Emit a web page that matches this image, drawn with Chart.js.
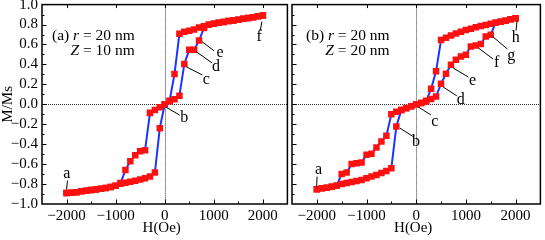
<!DOCTYPE html>
<html>
<head>
<meta charset="utf-8">
<script src="https://cdn.jsdelivr.net/npm/chart.js@4.4.0/dist/chart.umd.min.js"></script>
<style>
  html, body { margin: 0; padding: 0; background: #fff; }
  #wrap { position: relative; width: 545px; height: 240px; overflow: hidden; }
  canvas { position: absolute; top: 0; }
  #chartA { left: 0; }
  #chartB { left: 280px; }
</style>
</head>
<body>
<div id="wrap">
  <canvas id="chartA" width="292" height="240"></canvas>
  <canvas id="chartB" width="265" height="240"></canvas>
</div>
<script>
// field sweep points (Oe), shared by both panels
const fieldOe = [-2000, -1900, -1800, -1700, -1600, -1500, -1400, -1300, -1200, -1100, -1000,
                 -900, -800, -700, -600, -500, -400, -300, -200, -100, 0,
                 100, 200, 300, 400, 500, 600, 700, 800, 900, 1000,
                 1100, 1200, 1300, 1400, 1500, 1600, 1700, 1800, 1900, 2000];

// (a) r = 20 nm, Z = 10 nm : increasing and decreasing field branches
const panelA_up = [-0.890, -0.886, -0.882, -0.873, -0.866, -0.859, -0.854, -0.848, -0.839, -0.829, -0.818,
                   -0.798, -0.788, -0.778, -0.766, -0.755, -0.741, -0.724, -0.685, -0.240, 0.000,
                   0.030, 0.050, 0.086, 0.405, 0.546, 0.546, 0.640, 0.765, 0.798, 0.808,
                   0.818, 0.826, 0.835, 0.841, 0.849, 0.857, 0.865, 0.874, 0.882, 0.890];
const panelA_down = [-0.890, -0.886, -0.882, -0.873, -0.866, -0.859, -0.854, -0.848, -0.839, -0.829, -0.818,
                     -0.790, -0.660, -0.570, -0.510, -0.470, -0.460, -0.086, -0.058, -0.030, 0.000,
                     0.035, 0.305, 0.707, 0.727, 0.737, 0.751, 0.770, 0.784, 0.798, 0.808,
                     0.818, 0.826, 0.835, 0.841, 0.849, 0.857, 0.865, 0.874, 0.882, 0.890];

// (b) r = 20 nm, Z = 20 nm
const panelB_up = [-0.852, -0.842, -0.836, -0.826, -0.816, -0.800, -0.790, -0.780, -0.769, -0.759, -0.742,
                   -0.725, -0.708, -0.690, -0.668, -0.641, -0.223, -0.060, -0.040, -0.020, 0.000,
                   0.012, 0.028, 0.052, 0.078, 0.206, 0.307, 0.397, 0.447, 0.480, 0.497,
                   0.580, 0.590, 0.605, 0.680, 0.698, 0.819, 0.829, 0.839, 0.852, 0.862];
const panelB_down = [-0.852, -0.842, -0.836, -0.826, -0.816, -0.698, -0.685, -0.600, -0.592, -0.584, -0.507,
                     -0.497, -0.433, -0.372, -0.315, -0.100, -0.075, -0.054, -0.037, -0.020, 0.000,
                     0.012, 0.035, 0.155, 0.332, 0.644, 0.668, 0.691, 0.711, 0.728, 0.745,
                     0.758, 0.772, 0.785, 0.795, 0.809, 0.819, 0.829, 0.839, 0.852, 0.862];

const xTickLabels = [-2000, -1000, 0, 1000, 2000];
const yTickLabels = [-1.0, -0.8, -0.6, -0.4, -0.2, 0.0, 0.2, 0.4, 0.6, 0.8, 1.0];

// letter labels: [text, x, y, leader x1, y1, x2, y2] in data units
const notesA = [
  ['a', -1994, -0.694, -1980, -0.765, -2000, -0.855],
  ['b', 400, -0.139, 26, -0.028, 306, -0.109],
  ['c', 846, 0.244, 446, 0.375, 766, 0.294],
  ['d', 1046, 0.375, 646, 0.526, 966, 0.415],
  ['e', 1126, 0.516, 766, 0.627, 1006, 0.536],
  ['f', 1926, 0.677, 1980, 0.829, 1946, 0.738]
];
const notesB = [
  ['a', -1964, -0.658, -1996, -0.726, -2004, -0.832],
  ['b', -6, -0.374, -328, -0.239, -60, -0.324],
  ['c', 376, -0.173, 46, -0.028, 295, -0.106],
  ['d', 898, 0.045, 543, 0.173, 818, 0.085],
  ['e', 1132, 0.236, 744, 0.364, 1051, 0.273],
  ['f', 1622, 0.414, 1252, 0.565, 1548, 0.454],
  ['g', 1915, 0.487, 1534, 0.681, 1835, 0.555],
  ['h', 2004, 0.665, 2030, 0.839, 2010, 0.739]
];

const FONT = "'Liberation Serif', 'Times New Roman', serif";
const RED = '#ff1010';
const BLUE = '#1f35ff';

function minus(s) { return s.replace('-', '\u2212'); }

function pts(vals) {
  return fieldOe.map((h, i) => ({ x: h, y: vals[i] }));
}

const decor = {
  id: 'decor',
  beforeDatasetsDraw(chart, args, o) {
    const { ctx, chartArea: a, scales: { x, y } } = chart;
    ctx.save();
    ctx.strokeStyle = '#333';
    ctx.lineWidth = 1;
    ctx.setLineDash([1, 1]);
    const x0 = Math.round(x.getPixelForValue(0)) + 0.5;
    const y0 = Math.round(y.getPixelForValue(0)) + 0.5;
    ctx.beginPath();
    ctx.moveTo(x0, a.top); ctx.lineTo(x0, a.bottom);
    ctx.moveTo(a.left, y0); ctx.lineTo(a.right, y0);
    ctx.stroke();
    ctx.restore();
  },
  afterDatasetsDraw(chart, args, o) {
    const { ctx, chartArea: a, scales: { x, y } } = chart;
    ctx.save();

    // leader lines + letters
    ctx.strokeStyle = '#000';
    ctx.lineWidth = 1;
    ctx.fillStyle = '#000';
    ctx.font = '16px ' + FONT;
    ctx.textAlign = 'center';
    ctx.textBaseline = 'middle';
    o.notes.forEach(n => {
      ctx.beginPath();
      ctx.moveTo(x.getPixelForValue(n[3]), y.getPixelForValue(n[4]));
      ctx.lineTo(x.getPixelForValue(n[5]), y.getPixelForValue(n[6]));
      ctx.stroke();
      ctx.fillText(n[0], x.getPixelForValue(n[1]), y.getPixelForValue(n[2]));
    });

    // sample description
    ctx.textAlign = 'left';
    ctx.textBaseline = 'alphabetic';
    const up = '15.5px ' + FONT, it = 'italic 15.5px ' + FONT;
    let cx = a.left + o.infoLeft;
    const b1 = a.top + 35, b2 = a.top + 50;
    const parts = [[o.tag + ' ', up], ['r', it], [' = 20 nm', up]];
    parts.forEach(p => { ctx.font = p[1]; ctx.fillText(p[0], cx, b1); cx += ctx.measureText(p[0]).width; });
    const right = cx;
    ctx.font = up;
    const rest = ' = ' + o.z + ' nm';
    const wRest = ctx.measureText(rest).width;
    ctx.font = it;
    const wZ = ctx.measureText('Z').width;
    ctx.fillText('Z', right - wRest - wZ, b2);
    ctx.font = up;
    ctx.fillText(rest, right - wRest, b2);

    // frame
    ctx.lineWidth = 1.5;
    ctx.strokeRect(a.left, a.top, a.right - a.left, a.bottom - a.top);

    // inward ticks
    ctx.lineWidth = 1;
    ctx.beginPath();
    y.ticks.forEach(t => {
      if (t.value <= -1 || t.value >= 1) return;
      const py = Math.round(y.getPixelForValue(t.value)) + 0.5;
      const major = Math.abs(Math.round(t.value * 10)) % 2 === 0;
      ctx.moveTo(a.left, py); ctx.lineTo(a.left + (major ? 4.5 : 2.5), py);
    });
    x.ticks.forEach(t => {
      if (t.value <= -2500 || t.value >= 2500) return;
      const px = Math.round(x.getPixelForValue(t.value)) + 0.5;
      const major = t.value % 1000 === 0;
      ctx.moveTo(px, a.bottom); ctx.lineTo(px, a.bottom - (major ? 4.5 : 2.5));
      if (major) { ctx.moveTo(px, a.top); ctx.lineTo(px, a.top + 3.5); }
    });
    ctx.stroke();

    // axis titles
    ctx.font = '15px ' + FONT;
    ctx.textAlign = 'center';
    ctx.textBaseline = 'middle';
    ctx.fillText('H(Oe)', (a.left + a.right) / 2 - 3, 228);
    if (o.yTitle) {
      ctx.translate(8, (a.top + a.bottom) / 2);
      ctx.rotate(-Math.PI / 2);
      ctx.fillText('M/Ms', 0, 0);
    }
    ctx.restore();
  }
};

function makeChart(id, upVals, downVals, opts) {
  const ctx = document.getElementById(id).getContext('2d');
  return new Chart(ctx, {
    type: 'scatter',
    data: {
      datasets: [
        { data: pts(upVals), showLine: false, pointStyle: 'rect', pointRadius: 4.6,
          pointBackgroundColor: RED, pointBorderWidth: 0, order: 0 },
        { data: pts(downVals), showLine: false, pointStyle: 'rect', pointRadius: 4.6,
          pointBackgroundColor: RED, pointBorderWidth: 0, order: 0 },
        { data: pts(upVals), showLine: true, pointRadius: 0, borderColor: BLUE, borderWidth: 2, order: 1 },
        { data: pts(downVals), showLine: true, pointRadius: 0, borderColor: BLUE, borderWidth: 2, order: 1 }
      ]
    },
    options: {
      responsive: false,
      animation: false,
      devicePixelRatio: 1,
      layout: { padding: { top: 4, right: opts.rightPad, left: 0, bottom: 0 } },
      plugins: {
        legend: { display: false },
        tooltip: { enabled: false },
        decor: opts
      },
      scales: {
        x: {
          type: 'linear', min: -2500, max: 2500,
          grid: { display: false, drawTicks: false },
          border: { display: false },
          ticks: {
            stepSize: 500, autoSkip: false, maxRotation: 0, padding: 3, color: '#000',
            font: { family: FONT, size: 15 },
            callback: v => xTickLabels.includes(v) ? minus(String(v)) : ''
          },
          afterFit: s => { s.height = 36; s.paddingLeft = 0; s.paddingRight = 0; }
        },
        y: {
          type: 'linear', min: -1, max: 1,
          grid: { display: false, drawTicks: false },
          border: { display: false },
          ticks: {
            display: opts.yLabels, stepSize: 0.1, autoSkip: false, padding: 4, color: '#000',
            font: { family: FONT, size: 15 },
            callback: v => yTickLabels.some(t => Math.abs(t - v) < 1e-6) ? minus(v.toFixed(1)) : ''
          },
          afterFit: s => { s.width = opts.yWidth; s.paddingTop = 0; s.paddingBottom = 0; }
        }
      }
    },
    plugins: [decor]
  });
}

makeChart('chartA', panelA_up, panelA_down,
  { notes: notesA, tag: '(a)', z: '10', infoLeft: 10, yTitle: true, yLabels: true, yWidth: 42, rightPad: 0 });
makeChart('chartB', panelB_up, panelB_down,
  { notes: notesB, tag: '(b)', z: '20', infoLeft: 14, yTitle: false, yLabels: false, yWidth: 12, rightPad: 2 });
</script>
</body>
</html>
